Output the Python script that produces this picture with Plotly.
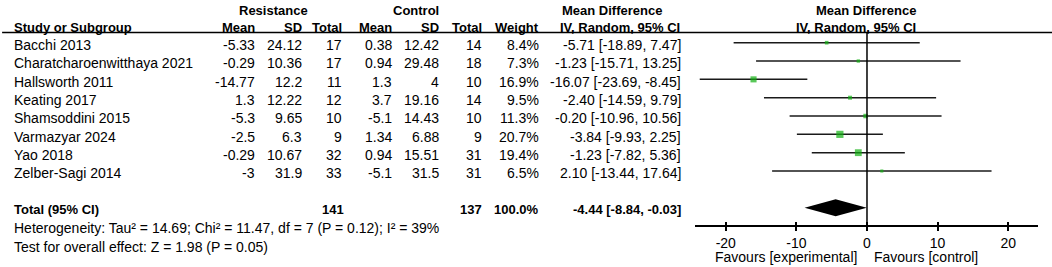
import plotly.graph_objects as go

# ---------------- data ----------------
studies = ["Bacchi 2013", "Charatcharoenwitthaya 2021", "Hallsworth 2011", "Keating 2017",
           "Shamsoddini 2015", "Varmazyar 2024", "Yao 2018", "Zelber-Sagi 2014"]
res_mean = [-5.33, -0.29, -14.77, 1.3, -5.3, -2.5, -0.29, -3]
res_sd = [24.12, 10.36, 12.2, 12.22, 9.65, 6.3, 10.67, 31.9]
res_n = [17, 17, 11, 12, 10, 9, 32, 33]
ctl_mean = [0.38, 0.94, 1.3, 3.7, -5.1, 1.34, 0.94, -5.1]
ctl_sd = [12.42, 29.48, 4, 19.16, 14.43, 6.88, 15.51, 31.5]
ctl_n = [14, 18, 10, 14, 10, 9, 31, 31]
weight = [8.4, 7.3, 16.9, 9.5, 11.3, 20.7, 19.4, 6.5]
md = [-5.71, -1.23, -16.07, -2.40, -0.20, -3.84, -1.23, 2.10]
md_lo = [-18.89, -15.71, -23.69, -14.59, -10.96, -9.93, -7.82, -13.44]
md_hi = [7.47, 13.25, -8.45, 9.79, 10.56, 2.25, 5.36, 17.64]

total_res_n = 141
total_ctl_n = 137
total_weight = 100.0
total_md = -4.44
total_lo = -8.84
total_hi = -0.03
heterogeneity = "Heterogeneity: Tau² = 14.69; Chi² = 11.47, df = 7 (P = 0.12); I² = 39%"
overall_effect = "Test for overall effect: Z = 1.98 (P = 0.05)"
tick_values = [-20, -10, 0, 10, 20]
favours_left = "Favours [experimental]"
favours_right = "Favours [control]"

# ---------------- layout helpers ----------------
W, H = 1052, 267
ROW0, ROWH = 42.7, 18.33
FONT = "Liberation Sans, Arial, sans-serif"
TXT_OFF = 0.12  # text slightly below mark centre


def prow(p):
    return (p - ROW0) / ROWH


def fmt(v):
    return f"{v:g}"


annotations = []


def txt(x_px, row, s, anchor="right", bold=False, size=14):
    annotations.append(dict(
        x=x_px / W, xref="paper", y=row, yref="y",
        text=f"<b>{s}</b>" if bold else s,
        showarrow=False, xanchor=anchor, yanchor="middle",
        font=dict(family=FONT, size=size, color="#000"),
        borderpad=0,
    ))


# header
h1 = prow(10)
h2 = prow(27)
txt(273, h1, "Resistance", anchor="center", bold=True, size=13)
txt(416, h1, "Control", anchor="center", bold=True, size=13)
txt(612, h1, "Mean Difference", anchor="center", bold=True, size=13)
txt(866, h1, "Mean Difference", anchor="center", bold=True, size=13)
txt(13, h2, "Study or Subgroup", anchor="left", bold=True, size=13)
for xp, s in [(256, "Mean"), (303, "SD"), (343, "Total"), (393, "Mean"), (440, "SD"),
              (483, "Total"), (540, "Weight")]:
    txt(xp, h2, s, bold=True, size=13)
txt(620, h2, "IV, Random, 95% CI", anchor="center", bold=True, size=13)
txt(856, h2, "IV, Random, 95% CI", anchor="center", bold=True, size=13)

# study rows
for i, name in enumerate(studies):
    r = i + TXT_OFF
    txt(13, r, name, anchor="left")
    txt(256, r, fmt(res_mean[i]))
    txt(303, r, fmt(res_sd[i]))
    txt(343, r, fmt(res_n[i]))
    txt(393, r, fmt(ctl_mean[i]))
    txt(440, r, fmt(ctl_sd[i]))
    txt(483, r, fmt(ctl_n[i]))
    txt(540, r, f"{weight[i]:.1f}%")
    txt(682, r, f"{md[i]:.2f} [{md_lo[i]:.2f}, {md_hi[i]:.2f}]")

total_row = len(studies) + 1
rt = total_row + TXT_OFF
txt(13, rt, "Total (95% CI)", anchor="left", bold=True, size=13)
txt(345, rt, str(total_res_n), bold=True, size=13)
txt(483, rt, str(total_ctl_n), bold=True, size=13)
txt(540, rt, f"{total_weight:.1f}%", bold=True, size=13)
txt(682, rt, f"{total_md:.2f} [{total_lo:.2f}, {total_hi:.2f}]", bold=True, size=13)
txt(13, total_row + 1 + TXT_OFF, heterogeneity, anchor="left")
txt(13, total_row + 2 + TXT_OFF, overall_effect, anchor="left")

fav_row = prow(257)
txt(858, fav_row, favours_left)
txt(873, fav_row, favours_right, anchor="left")

# ---------------- traces ----------------
fig = go.Figure()
rows = list(range(len(studies)))

ci_x, ci_y = [], []
for i in rows:
    ci_x += [md_lo[i], md_hi[i], None]
    ci_y += [i, i, None]
fig.add_trace(go.Scatter(x=ci_x, y=ci_y, mode="lines",
                         line=dict(color="#1a1a1a", width=1.5), hoverinfo="skip"))

fig.add_trace(go.Scatter(
    x=md, y=rows, mode="markers",
    marker=dict(symbol="square", color="#12b012",
                size=[1.2 + 0.29 * w for w in weight], line=dict(width=0)),
    hoverinfo="skip"))

dh = 8.5 / ROWH
fig.add_trace(go.Scatter(
    x=[total_lo, total_md, total_hi, total_md, total_lo],
    y=[total_row, total_row - dh, total_row, total_row + dh, total_row],
    mode="lines", fill="toself", fillcolor="#000", line=dict(width=0, color="#000"),
    hoverinfo="skip"))

# invisible trace to carry the overlaid tick axis
fig.add_trace(go.Scatter(x=[0], y=[0], xaxis="x2", yaxis="y", mode="markers",
                         marker=dict(opacity=0), hoverinfo="skip"))

axis_row = total_row + 1
axis_pos = 1 - (ROW0 + axis_row * ROWH) / H
x_dom = [695 / W, 1038 / W]
x_rng = [-24.36, 24.22]

fig.update_layout(
    width=W, height=H,
    margin=dict(l=0, r=0, t=0, b=0),
    paper_bgcolor="white", plot_bgcolor="white",
    showlegend=False,
    annotations=annotations,
    xaxis=dict(domain=x_dom, range=x_rng, anchor="free", position=axis_pos,
               showline=True, linecolor="#000", linewidth=1.5,
               ticks="outside", ticklen=4, tickwidth=1.5, tickcolor="#000",
               tickvals=tick_values, ticktext=[str(t) for t in tick_values],
               tickfont=dict(family=FONT, size=14, color="#000"),
               showgrid=False, zeroline=False, fixedrange=True),
    xaxis2=dict(overlaying="x", matches="x", anchor="free", position=axis_pos,
                ticks="inside", ticklen=4, tickwidth=1.5, tickcolor="#000",
                tickvals=tick_values, showticklabels=False, showline=False,
                showgrid=False, zeroline=False, fixedrange=True),
    yaxis=dict(domain=[0, 1], range=[prow(H), prow(0)], visible=False,
               showgrid=False, zeroline=False, fixedrange=True),
    shapes=[
        dict(type="line", xref="paper", yref="y", x0=0.002, x1=1,
             y0=prow(32.5), y1=prow(32.5), line=dict(color="#000", width=1.5)),
        dict(type="line", xref="x", yref="y", x0=0, x1=0,
             y0=prow(32.5), y1=axis_row, line=dict(color="#000", width=1.5)),
    ],
)

fig.write_html("out.html",
               config={"displayModeBar": False},
               post_script="document.body.style.margin='0px';document.body.style.overflow='hidden';")
